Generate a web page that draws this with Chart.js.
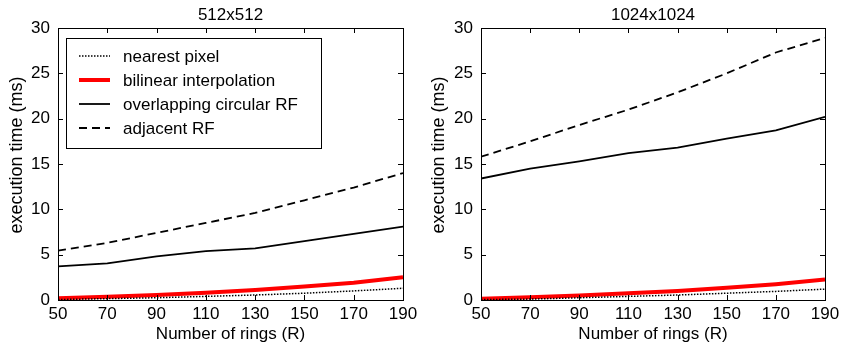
<!DOCTYPE html>
<html>
<head>
<meta charset="utf-8">
<script src="https://cdn.jsdelivr.net/npm/chart.js@4"></script>
<style>
  body { margin: 0; background: #fff; }
  .panel { position: absolute; top: 0; width: 422px; height: 344px; }
</style>
</head>
<body>
<div class="panel" style="left:0"><canvas id="left" width="422" height="344"></canvas></div>
<div class="panel" style="left:422px"><canvas id="right" width="422" height="344"></canvas></div>
<script>
// number of rings (R)
var rings = [50, 70, 90, 110, 130, 150, 170, 190];

// 512x512 timings (ms)
var nearest512 = [0.05, 0.15, 0.25, 0.4, 0.55, 0.75, 1.0, 1.3];
var bilinear512 = [0.2, 0.35, 0.55, 0.8, 1.1, 1.5, 1.9, 2.5];
var overlap512 = [3.7, 4.05, 4.8, 5.4, 5.7, 6.5, 7.3, 8.1];
var adjacent512 = [5.45, 6.3, 7.4, 8.5, 9.6, 11.0, 12.4, 14.0];

// 1024x1024 timings (ms)
var nearest1024 = [0.05, 0.1, 0.25, 0.4, 0.55, 0.75, 0.95, 1.2];
var bilinear1024 = [0.15, 0.3, 0.5, 0.75, 1.0, 1.35, 1.75, 2.25];
var overlap1024 = [13.4, 14.5, 15.3, 16.2, 16.8, 17.8, 18.7, 20.2];
var adjacent1024 = [15.8, 17.5, 19.3, 21.0, 22.9, 25.0, 27.3, 28.9];

var seriesNames = ['nearest pixel', 'bilinear interpolation', 'overlapping circular RF', 'adjacent RF'];
var yTicks = [0, 5, 10, 15, 20, 25, 30];
var xTicks = [50, 70, 90, 110, 130, 150, 170, 190];

var FONT = '"Liberation Sans", Arial, sans-serif';

function pts(ys) {
    return rings.map(function (r, i) { return { x: r, y: ys[i] }; });
}

function makeDatasets(n, b, o, a) {
    return [
        { label: seriesNames[0], data: pts(n), borderColor: '#000', borderWidth: 1.5, borderDash: [1.5, 1.5] },
        { label: seriesNames[1], data: pts(b), borderColor: '#ff0000', borderWidth: 4 },
        { label: seriesNames[2], data: pts(o), borderColor: '#000', borderWidth: 1.8 },
        { label: seriesNames[3], data: pts(a), borderColor: '#000', borderWidth: 1.8, borderDash: [8, 5] }
    ];
}

// frame, inward ticks, titles and boxed legend
var panelPlugin = {
    id: 'panel',
    afterDraw: function (chart, args, opts) {
        var ctx = chart.ctx;
        var area = chart.chartArea;
        var xs = chart.scales.x, ys = chart.scales.y;
        ctx.save();
        ctx.strokeStyle = '#000';
        ctx.lineWidth = 1;
        ctx.strokeRect(Math.round(area.left) + 0.5, Math.round(area.top) + 0.5,
            Math.round(area.right - area.left), Math.round(area.bottom - area.top));
        var tl = 5;
        ctx.beginPath();
        xTicks.forEach(function (r) {
            var px = Math.round(xs.getPixelForValue(r)) + 0.5;
            ctx.moveTo(px, area.bottom); ctx.lineTo(px, area.bottom - tl);
            ctx.moveTo(px, area.top); ctx.lineTo(px, area.top + tl);
        });
        yTicks.forEach(function (v) {
            var py = Math.round(ys.getPixelForValue(v)) + 0.5;
            ctx.moveTo(area.left, py); ctx.lineTo(area.left + tl, py);
            ctx.moveTo(area.right, py); ctx.lineTo(area.right - tl, py);
        });
        ctx.stroke();

        ctx.fillStyle = '#000';
        ctx.textAlign = 'center';
        ctx.textBaseline = 'middle';
        // panel title
        ctx.font = '17px ' + FONT;
        ctx.fillText(opts.title, (area.left + area.right) / 2, 15);
        // x axis title
        ctx.fillText('Number of rings (R)', (area.left + area.right) / 2, 334);
        // y axis title
        ctx.save();
        ctx.translate(17, 155);
        ctx.rotate(-Math.PI / 2);
        ctx.font = '18px ' + FONT;
        ctx.fillText('execution time (ms)', 0, 0);
        ctx.restore();

        if (opts.legend) {
            var lx = area.left + 8, ly = area.top + 10, lw = 255, lh = 110;
            ctx.fillStyle = '#fff';
            ctx.fillRect(lx, ly, lw, lh);
            ctx.strokeStyle = '#000';
            ctx.lineWidth = 1;
            ctx.strokeRect(lx + 0.5, ly + 0.5, lw, lh);
            chart.data.datasets.forEach(function (ds, i) {
                var y = ly + 18 + i * 24;
                ctx.beginPath();
                ctx.strokeStyle = ds.borderColor;
                ctx.lineWidth = ds.borderWidth;
                ctx.setLineDash(ds.borderDash || []);
                ctx.moveTo(lx + 13, y);
                ctx.lineTo(lx + 44, y);
                ctx.stroke();
                ctx.setLineDash([]);
                ctx.fillStyle = '#000';
                ctx.font = '17px ' + FONT;
                ctx.textAlign = 'left';
                ctx.fillText(ds.label, lx + 57, y + 1);
            });
        }
        ctx.restore();
    }
};

function makeChart(id, datasets, title, legend, padLeft) {
    return new Chart(document.getElementById(id), {
        type: 'line',
        data: { datasets: datasets },
        options: {
            responsive: false,
            animation: false,
            layout: { padding: { left: padLeft, top: 28, right: 19, bottom: 0 } },
            elements: { point: { radius: 0 }, line: { tension: 0, fill: false } },
            plugins: {
                legend: { display: false },
                tooltip: { enabled: false },
                panel: { title: title, legend: legend }
            },
            scales: {
                x: {
                    type: 'linear', min: 50, max: 190,
                    afterBuildTicks: function (s) { s.ticks = xTicks.map(function (v) { return { value: v }; }); },
                    afterFit: function (s) { s.height = 44; },
                    grid: { display: false, drawTicks: false },
                    border: { display: false },
                    ticks: { color: '#000', font: { size: 17, family: FONT }, padding: 4, maxRotation: 0, autoSkip: false }
                },
                y: {
                    min: 0, max: 30,
                    afterBuildTicks: function (s) { s.ticks = yTicks.map(function (v) { return { value: v }; }); },
                    afterFit: function (s) { s.width = 58; },
                    grid: { display: false, drawTicks: false },
                    border: { display: false },
                    ticks: { color: '#000', font: { size: 17, family: FONT }, padding: 8 }
                }
            }
        },
        plugins: [panelPlugin]
    });
}

makeChart('left', makeDatasets(nearest512, bilinear512, overlap512, adjacent512), '512x512', true, 0);
makeChart('right', makeDatasets(nearest1024, bilinear1024, overlap1024, adjacent1024), '1024x1024', false, 1);
</script>
</body>
</html>
